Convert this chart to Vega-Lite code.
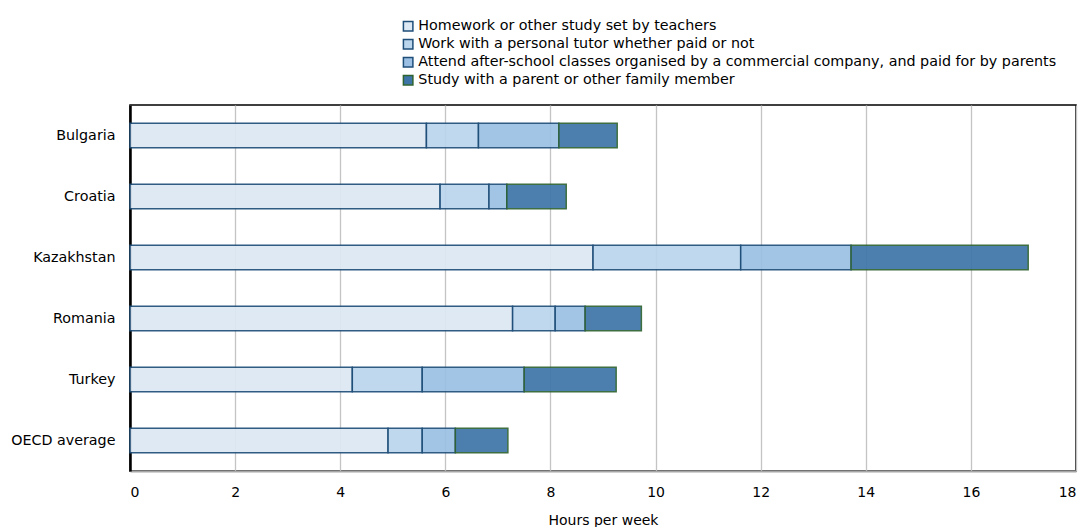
{
  "$schema": "https://vega.github.io/schema/vega-lite/v6.json",
  "width": 946,
  "height": 366,
  "autosize": {"type": "none"},
  "padding": {"left": 130, "top": 105, "right": 11, "bottom": 56},
  "config": {
    "font": "DejaVu Sans",
    "view": {"stroke": "#000000", "strokeWidth": 1.5},
    "background": "#ffffff"
  },
  "data": {
    "values": [
      {"country": "Bulgaria", "activity": "Homework or other study set by teachers", "k": 1, "hours": 5.64},
      {"country": "Bulgaria", "activity": "Work with a personal tutor whether paid or not", "k": 2, "hours": 0.99},
      {"country": "Bulgaria", "activity": "Attend after-school classes organised by a commercial company, and paid for by parents", "k": 3, "hours": 1.53},
      {"country": "Bulgaria", "activity": "Study with a parent or other family member", "k": 4, "hours": 1.11},
      {"country": "Croatia", "activity": "Homework or other study set by teachers", "k": 1, "hours": 5.90},
      {"country": "Croatia", "activity": "Work with a personal tutor whether paid or not", "k": 2, "hours": 0.93},
      {"country": "Croatia", "activity": "Attend after-school classes organised by a commercial company, and paid for by parents", "k": 3, "hours": 0.34},
      {"country": "Croatia", "activity": "Study with a parent or other family member", "k": 4, "hours": 1.13},
      {"country": "Kazakhstan", "activity": "Homework or other study set by teachers", "k": 1, "hours": 8.81},
      {"country": "Kazakhstan", "activity": "Work with a personal tutor whether paid or not", "k": 2, "hours": 2.81},
      {"country": "Kazakhstan", "activity": "Attend after-school classes organised by a commercial company, and paid for by parents", "k": 3, "hours": 2.10},
      {"country": "Kazakhstan", "activity": "Study with a parent or other family member", "k": 4, "hours": 3.37},
      {"country": "Romania", "activity": "Homework or other study set by teachers", "k": 1, "hours": 7.28},
      {"country": "Romania", "activity": "Work with a personal tutor whether paid or not", "k": 2, "hours": 0.81},
      {"country": "Romania", "activity": "Attend after-school classes organised by a commercial company, and paid for by parents", "k": 3, "hours": 0.57},
      {"country": "Romania", "activity": "Study with a parent or other family member", "k": 4, "hours": 1.07},
      {"country": "Turkey", "activity": "Homework or other study set by teachers", "k": 1, "hours": 4.23},
      {"country": "Turkey", "activity": "Work with a personal tutor whether paid or not", "k": 2, "hours": 1.33},
      {"country": "Turkey", "activity": "Attend after-school classes organised by a commercial company, and paid for by parents", "k": 3, "hours": 1.94},
      {"country": "Turkey", "activity": "Study with a parent or other family member", "k": 4, "hours": 1.75},
      {"country": "OECD average", "activity": "Homework or other study set by teachers", "k": 1, "hours": 4.91},
      {"country": "OECD average", "activity": "Work with a personal tutor whether paid or not", "k": 2, "hours": 0.65},
      {"country": "OECD average", "activity": "Attend after-school classes organised by a commercial company, and paid for by parents", "k": 3, "hours": 0.63},
      {"country": "OECD average", "activity": "Study with a parent or other family member", "k": 4, "hours": 1.00}
    ]
  },
  "mark": {"type": "bar", "strokeWidth": 1.5, "opacity": 0.92},
  "encoding": {
    "y": {
      "field": "country",
      "type": "nominal",
      "sort": ["Bulgaria", "Croatia", "Kazakhstan", "Romania", "Turkey", "OECD average"],
      "scale": {"paddingInner": 0.6, "paddingOuter": 0.3},
      "axis": {
        "title": null,
        "ticks": false,
        "labelFontSize": 14.3,
        "labelColor": "#000000",
        "labelPadding": 15,
        "labelLimit": 200,
        "domainColor": "#000000",
        "domainWidth": 2.5,
        "grid": false
      }
    },
    "x": {
      "field": "hours",
      "type": "quantitative",
      "stack": "zero",
      "scale": {"domain": [0, 18], "nice": false},
      "axis": {
        "title": "Hours per week",
        "titleFontWeight": "normal",
        "titleFontSize": 14,
        "titleColor": "#000000",
        "titlePadding": 14,
        "values": [0, 2, 4, 6, 8, 10, 12, 14, 16, 18],
        "ticks": false,
        "labelFontSize": 14,
        "labelColor": "#000000",
        "labelPadding": 14,
        "domainColor": "#A6A6A6",
        "domainWidth": 2,
        "gridColor": "#C4C4C4",
        "gridWidth": 1.3
      }
    },
    "order": {"field": "k", "type": "quantitative"},
    "color": {
      "field": "activity",
      "type": "nominal",
      "sort": [
        "Homework or other study set by teachers",
        "Work with a personal tutor whether paid or not",
        "Attend after-school classes organised by a commercial company, and paid for by parents",
        "Study with a parent or other family member"
      ],
      "scale": {
        "domain": [
          "Homework or other study set by teachers",
          "Work with a personal tutor whether paid or not",
          "Attend after-school classes organised by a commercial company, and paid for by parents",
          "Study with a parent or other family member"
        ],
        "range": ["#DCE8F3", "#BAD5EC", "#9BC0E3", "#3E75A8"]
      },
      "legend": {
        "title": null,
        "orient": "none",
        "legendX": 271,
        "legendY": -86,
        "symbolType": "square",
        "symbolSize": 90,
        "symbolStrokeWidth": 1.5,
        "symbolOpacity": 1,
        "labelFontSize": 14.3,
        "labelColor": "#000000",
        "labelOffset": 3,
        "rowPadding": 2,
        "labelLimit": 800
      }
    },
    "stroke": {
      "field": "activity",
      "type": "nominal",
      "scale": {
        "domain": [
          "Homework or other study set by teachers",
          "Work with a personal tutor whether paid or not",
          "Attend after-school classes organised by a commercial company, and paid for by parents",
          "Study with a parent or other family member"
        ],
        "range": ["#1F4E79", "#1F4E79", "#1F4E79", "#2E6330"]
      },
      "legend": null
    }
  }
}
